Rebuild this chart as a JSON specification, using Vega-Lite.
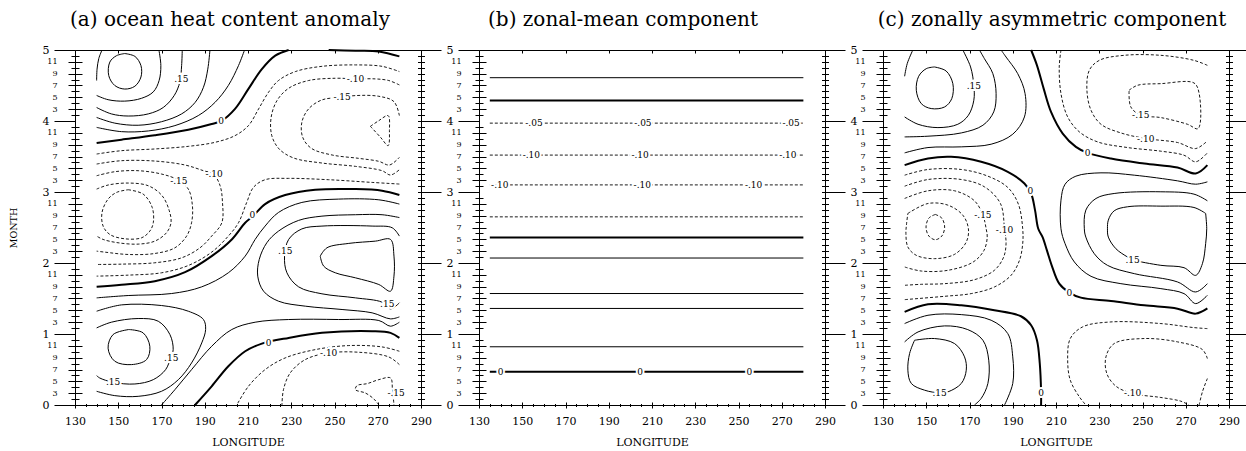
{
"$schema": "https://vega.github.io/schema/vega-lite/v6.json",
"padding": {"left": 7, "top": 9, "right": 0, "bottom": 0},
"autosize": {"type": "pad"},
"datasets": {
"la": [
{"c":"a1","v":0.25,"x":153,"y":4.95},{"c":"a1","v":0.25,"x":157.7,"y":4.91},{"c":"a1","v":0.25,"x":160.5,"y":4.78},{"c":"a1","v":0.25,"x":160.5,"y":4.62},{"c":"a1","v":0.25,"x":157.7,"y":4.49},{"c":"a1","v":0.25,"x":153,"y":4.45},{"c":"a1","v":0.25,"x":148.4,"y":4.5},{"c":"a1","v":0.25,"x":145.6,"y":4.64},{"c":"a1","v":0.25,"x":146.1,"y":4.83},{"c":"a1","v":0.25,"x":149.2,"y":4.92},{"c":"a1","v":0.25,"x":153,"y":4.95},
{"c":"a2","v":0.2,"x":140,"y":4.36},{"c":"a2","v":0.2,"x":145.3,"y":4.3},{"c":"a2","v":0.2,"x":153,"y":4.28},{"c":"a2","v":0.2,"x":160.8,"y":4.32},{"c":"a2","v":0.2,"x":166.2,"y":4.41},{"c":"a2","v":0.2,"x":168.9,"y":4.57},{"c":"a2","v":0.2,"x":169.7,"y":4.78},{"c":"a2","v":0.2,"x":168.8,"y":5},
{"c":"a3","v":0.2,"x":140,"y":4.57},{"c":"a3","v":0.2,"x":140.2,"y":4.73},{"c":"a3","v":0.2,"x":141,"y":4.88},{"c":"a3","v":0.2,"x":142.5,"y":5},
{"c":"a4","v":0.15,"x":140,"y":4.19},{"c":"a4","v":0.15,"x":146.8,"y":4.1},{"c":"a4","v":0.15,"x":154.6,"y":4.07},{"c":"a4","v":0.15,"x":163.9,"y":4.1},{"c":"a4","v":0.15,"x":170.8,"y":4.19},{"c":"a4","v":0.15,"x":175.9,"y":4.36},{"c":"a4","v":0.15,"x":178.5,"y":4.55},{"c":"a4","v":0.15,"x":179.3,"y":4.78},{"c":"a4","v":0.15,"x":179.6,"y":5},
{"c":"a5","v":0.1,"x":140,"y":4.05},{"c":"a5","v":0.1,"x":148.4,"y":3.97},{"c":"a5","v":0.1,"x":159.2,"y":3.94},{"c":"a5","v":0.1,"x":170,"y":3.99},{"c":"a5","v":0.1,"x":179.3,"y":4.1},{"c":"a5","v":0.1,"x":185.5,"y":4.26},{"c":"a5","v":0.1,"x":189.4,"y":4.475},{"c":"a5","v":0.1,"x":191.4,"y":4.73},{"c":"a5","v":0.1,"x":192.4,"y":5},
{"c":"a6","v":0.05,"x":140,"y":3.91},{"c":"a6","v":0.05,"x":151.5,"y":3.85},{"c":"a6","v":0.05,"x":163.9,"y":3.86},{"c":"a6","v":0.05,"x":176.2,"y":3.935},{"c":"a6","v":0.05,"x":187,"y":4.076},{"c":"a6","v":0.05,"x":194.8,"y":4.264},{"c":"a6","v":0.05,"x":200.9,"y":4.5},{"c":"a6","v":0.05,"x":205.6,"y":4.78},{"c":"a6","v":0.05,"x":208.4,"y":5},
{"c":"a7","v":0,"x":140,"y":3.69},{"c":"a7","v":0,"x":151.5,"y":3.737},{"c":"a7","v":0,"x":166.9,"y":3.8},{"c":"a7","v":0,"x":182.4,"y":3.878},{"c":"a7","v":0,"x":193.2,"y":3.958},{"c":"a7","v":0,"x":197.9,"y":4.005},{"c":"a7","v":0,"x":204,"y":4.17},{"c":"a7","v":0,"x":210.2,"y":4.452},{"c":"a7","v":0,"x":216.4,"y":4.73},{"c":"a7","v":0,"x":222.6,"y":4.92},{"c":"a7","v":0,"x":228.8,"y":5},
{"c":"a8","v":0,"x":247.3,"y":5},{"c":"a8","v":0,"x":259.7,"y":4.99},{"c":"a8","v":0,"x":270.5,"y":4.98},{"c":"a8","v":0,"x":280,"y":4.91},
{"c":"a9","v":-0.05,"x":140,"y":3.535},{"c":"a9","v":-0.05,"x":151.5,"y":3.582},{"c":"a9","v":-0.05,"x":166.9,"y":3.606},{"c":"a9","v":-0.05,"x":182.4,"y":3.643},{"c":"a9","v":-0.05,"x":194.8,"y":3.7},{"c":"a9","v":-0.05,"x":204,"y":3.794},{"c":"a9","v":-0.05,"x":210.2,"y":3.935},{"c":"a9","v":-0.05,"x":214.9,"y":4.17},{"c":"a9","v":-0.05,"x":219.5,"y":4.405},{"c":"a9","v":-0.05,"x":224.1,"y":4.57},{"c":"a9","v":-0.05,"x":231.9,"y":4.696},{"c":"a9","v":-0.05,"x":244.2,"y":4.77},{"c":"a9","v":-0.05,"x":259.7,"y":4.79},{"c":"a9","v":-0.05,"x":272,"y":4.77},{"c":"a9","v":-0.05,"x":280,"y":4.696},
{"c":"a10","v":-0.1,"x":280,"y":4.508},{"c":"a10","v":-0.1,"x":275.1,"y":4.57},{"c":"a10","v":-0.1,"x":268.9,"y":4.593},{"c":"a10","v":-0.1,"x":259.7,"y":4.593},{"c":"a10","v":-0.1,"x":250.4,"y":4.602},{"c":"a10","v":-0.1,"x":238,"y":4.57},{"c":"a10","v":-0.1,"x":228.8,"y":4.461},{"c":"a10","v":-0.1,"x":223.4,"y":4.287},{"c":"a10","v":-0.1,"x":220.7,"y":4.052},{"c":"a10","v":-0.1,"x":221,"y":3.794},{"c":"a10","v":-0.1,"x":224.4,"y":3.606},{"c":"a10","v":-0.1,"x":231.1,"y":3.479},{"c":"a10","v":-0.1,"x":244.2,"y":3.408},{"c":"a10","v":-0.1,"x":259.7,"y":3.361},{"c":"a10","v":-0.1,"x":272,"y":3.3},{"c":"a10","v":-0.1,"x":275.9,"y":3.239},{"c":"a10","v":-0.1,"x":280,"y":3.314},
{"c":"a11","v":-0.15,"x":280,"y":4.076},{"c":"a11","v":-0.15,"x":277.5,"y":4.273},{"c":"a11","v":-0.15,"x":270.5,"y":4.348},{"c":"a11","v":-0.15,"x":259.7,"y":4.358},{"c":"a11","v":-0.15,"x":253.5,"y":4.334},{"c":"a11","v":-0.15,"x":244.2,"y":4.297},{"c":"a11","v":-0.15,"x":238,"y":4.17},{"c":"a11","v":-0.15,"x":234.9,"y":3.982},{"c":"a11","v":-0.15,"x":235.3,"y":3.77},{"c":"a11","v":-0.15,"x":239.3,"y":3.615},{"c":"a11","v":-0.15,"x":248.9,"y":3.521},{"c":"a11","v":-0.15,"x":261.2,"y":3.474},{"c":"a11","v":-0.15,"x":270.5,"y":3.432},{"c":"a11","v":-0.15,"x":275.4,"y":3.38},{"c":"a11","v":-0.15,"x":280,"y":3.488},
{"c":"a12","v":-0.2,"x":266.6,"y":3.925},{"c":"a12","v":-0.2,"x":270.5,"y":4.005},{"c":"a12","v":-0.2,"x":274.8,"y":4.076},{"c":"a12","v":-0.2,"x":275.4,"y":3.864},{"c":"a12","v":-0.2,"x":274.8,"y":3.653},{"c":"a12","v":-0.2,"x":271.3,"y":3.77},{"c":"a12","v":-0.2,"x":266.6,"y":3.925},
{"c":"a13","v":-0.05,"x":280,"y":3.112},{"c":"a13","v":-0.05,"x":267.4,"y":3.135},{"c":"a13","v":-0.05,"x":247.3,"y":3.173},{"c":"a13","v":-0.05,"x":228.8,"y":3.192},{"c":"a13","v":-0.05,"x":217.9,"y":3.173},{"c":"a13","v":-0.05,"x":212.5,"y":3.065},{"c":"a13","v":-0.05,"x":209.4,"y":2.853},{"c":"a13","v":-0.05,"x":205.6,"y":2.567},{"c":"a13","v":-0.05,"x":200.9,"y":2.379},{"c":"a13","v":-0.05,"x":193.2,"y":2.153},{"c":"a13","v":-0.05,"x":182.4,"y":1.965},{"c":"a13","v":-0.05,"x":170,"y":1.862},{"c":"a13","v":-0.05,"x":154.6,"y":1.829},{"c":"a13","v":-0.05,"x":140,"y":1.815},
{"c":"a14","v":-0.1,"x":140,"y":3.394},{"c":"a14","v":-0.1,"x":151.5,"y":3.441},{"c":"a14","v":-0.1,"x":166.9,"y":3.436},{"c":"a14","v":-0.1,"x":180.9,"y":3.38},{"c":"a14","v":-0.1,"x":189.4,"y":3.3},{"c":"a14","v":-0.1,"x":194,"y":3.253},{"c":"a14","v":-0.1,"x":197.1,"y":3.088},{"c":"a14","v":-0.1,"x":198.2,"y":2.853},{"c":"a14","v":-0.1,"x":197.9,"y":2.567},{"c":"a14","v":-0.1,"x":193.2,"y":2.379},{"c":"a14","v":-0.1,"x":187.8,"y":2.214},{"c":"a14","v":-0.1,"x":179.3,"y":2.073},{"c":"a14","v":-0.1,"x":166.9,"y":2.003},{"c":"a14","v":-0.1,"x":151.5,"y":1.984},{"c":"a14","v":-0.1,"x":140,"y":1.979},
{"c":"a15","v":-0.15,"x":140,"y":3.229},{"c":"a15","v":-0.15,"x":148.4,"y":3.286},{"c":"a15","v":-0.15,"x":159.2,"y":3.3},{"c":"a15","v":-0.15,"x":170,"y":3.253},{"c":"a15","v":-0.15,"x":177.4,"y":3.173},{"c":"a15","v":-0.15,"x":182.4,"y":3.041},{"c":"a15","v":-0.15,"x":184.3,"y":2.806},{"c":"a15","v":-0.15,"x":183.9,"y":2.567},{"c":"a15","v":-0.15,"x":181.6,"y":2.379},{"c":"a15","v":-0.15,"x":176.2,"y":2.214},{"c":"a15","v":-0.15,"x":166.9,"y":2.134},{"c":"a15","v":-0.15,"x":154.6,"y":2.12},{"c":"a15","v":-0.15,"x":143.8,"y":2.153},{"c":"a15","v":-0.15,"x":140,"y":2.167},
{"c":"a16","v":-0.2,"x":140,"y":3.041},{"c":"a16","v":-0.2,"x":145.3,"y":3.098},{"c":"a16","v":-0.2,"x":154.6,"y":3.126},{"c":"a16","v":-0.2,"x":163.9,"y":3.088},{"c":"a16","v":-0.2,"x":170.3,"y":2.947},{"c":"a16","v":-0.2,"x":173.6,"y":2.736},{"c":"a16","v":-0.2,"x":174.4,"y":2.567},{"c":"a16","v":-0.2,"x":172.3,"y":2.426},{"c":"a16","v":-0.2,"x":166.9,"y":2.308},{"c":"a16","v":-0.2,"x":159.2,"y":2.266},{"c":"a16","v":-0.2,"x":149.9,"y":2.285},{"c":"a16","v":-0.2,"x":143,"y":2.332},{"c":"a16","v":-0.2,"x":140,"y":2.379},
{"c":"a17","v":-0.25,"x":154.6,"y":3.032},{"c":"a17","v":-0.25,"x":161.5,"y":2.971},{"c":"a17","v":-0.25,"x":165.7,"y":2.783},{"c":"a17","v":-0.25,"x":166.2,"y":2.567},{"c":"a17","v":-0.25,"x":164.6,"y":2.449},{"c":"a17","v":-0.25,"x":160.8,"y":2.355},{"c":"a17","v":-0.25,"x":153,"y":2.341},{"c":"a17","v":-0.25,"x":146.1,"y":2.402},{"c":"a17","v":-0.25,"x":143,"y":2.52},{"c":"a17","v":-0.25,"x":142.5,"y":2.712},{"c":"a17","v":-0.25,"x":145.3,"y":2.9},{"c":"a17","v":-0.25,"x":149.2,"y":2.994},{"c":"a17","v":-0.25,"x":154.6,"y":3.032},
{"c":"a18","v":0,"x":140,"y":1.664},{"c":"a18","v":0,"x":151.5,"y":1.693},{"c":"a18","v":0,"x":166.9,"y":1.744},{"c":"a18","v":0,"x":180.9,"y":1.871},{"c":"a18","v":0,"x":193.2,"y":2.097},{"c":"a18","v":0,"x":202.5,"y":2.332},{"c":"a18","v":0,"x":208.7,"y":2.567},{"c":"a18","v":0,"x":212.5,"y":2.665},{"c":"a18","v":0,"x":217.9,"y":2.83},{"c":"a18","v":0,"x":227.2,"y":2.957},{"c":"a18","v":0,"x":241.1,"y":3.032},{"c":"a18","v":0,"x":259.7,"y":3.041},{"c":"a18","v":0,"x":272,"y":3.018},{"c":"a18","v":0,"x":280,"y":2.957},
{"c":"a19","v":0.05,"x":140,"y":1.509},{"c":"a19","v":0.05,"x":154.6,"y":1.542},{"c":"a19","v":0.05,"x":174.7,"y":1.57},{"c":"a19","v":0.05,"x":188.6,"y":1.664},{"c":"a19","v":0.05,"x":200.9,"y":1.862},{"c":"a19","v":0.05,"x":208.7,"y":2.097},{"c":"a19","v":0.05,"x":213.3,"y":2.332},{"c":"a19","v":0.05,"x":217.9,"y":2.52},{"c":"a19","v":0.05,"x":224.1,"y":2.712},{"c":"a19","v":0.05,"x":234.9,"y":2.853},{"c":"a19","v":0.05,"x":251.9,"y":2.9},{"c":"a19","v":0.05,"x":270.5,"y":2.89},{"c":"a19","v":0.05,"x":280,"y":2.83},
{"c":"a20","v":0.1,"x":280,"y":1.241},{"c":"a20","v":0.1,"x":275.9,"y":1.213},{"c":"a20","v":0.1,"x":267.4,"y":1.298},{"c":"a20","v":0.1,"x":253.5,"y":1.345},{"c":"a20","v":0.1,"x":236.5,"y":1.392},{"c":"a20","v":0.1,"x":224.1,"y":1.462},{"c":"a20","v":0.1,"x":217.2,"y":1.603},{"c":"a20","v":0.1,"x":214.5,"y":1.815},{"c":"a20","v":0.1,"x":215.2,"y":2.05},{"c":"a20","v":0.1,"x":218.7,"y":2.285},{"c":"a20","v":0.1,"x":224.1,"y":2.449},{"c":"a20","v":0.1,"x":233.4,"y":2.6},{"c":"a20","v":0.1,"x":244.2,"y":2.66},{"c":"a20","v":0.1,"x":259.7,"y":2.68},{"c":"a20","v":0.1,"x":272,"y":2.68},{"c":"a20","v":0.1,"x":280,"y":2.64},
{"c":"a21","v":0.15,"x":280,"y":2.379},{"c":"a21","v":0.15,"x":276.7,"y":2.496},{"c":"a21","v":0.15,"x":267.4,"y":2.52},{"c":"a21","v":0.15,"x":244.2,"y":2.52},{"c":"a21","v":0.15,"x":234.9,"y":2.48},{"c":"a21","v":0.15,"x":228.8,"y":2.332},{"c":"a21","v":0.15,"x":226.9,"y":2.097},{"c":"a21","v":0.15,"x":228,"y":1.862},{"c":"a21","v":0.15,"x":233.4,"y":1.664},{"c":"a21","v":0.15,"x":244.2,"y":1.566},{"c":"a21","v":0.15,"x":259.7,"y":1.509},{"c":"a21","v":0.15,"x":272,"y":1.448},{"c":"a21","v":0.15,"x":275.9,"y":1.354},{"c":"a21","v":0.15,"x":280,"y":1.439},
{"c":"a22","v":0.2,"x":243.4,"y":2.097},{"c":"a22","v":0.2,"x":246.5,"y":2.214},{"c":"a22","v":0.2,"x":256.6,"y":2.276},{"c":"a22","v":0.2,"x":268.9,"y":2.308},{"c":"a22","v":0.2,"x":275.9,"y":2.332},{"c":"a22","v":0.2,"x":277.5,"y":2.097},{"c":"a22","v":0.2,"x":277.5,"y":1.815},{"c":"a22","v":0.2,"x":275.9,"y":1.603},{"c":"a22","v":0.2,"x":270.5,"y":1.697},{"c":"a22","v":0.2,"x":259.7,"y":1.791},{"c":"a22","v":0.2,"x":250.4,"y":1.862},{"c":"a22","v":0.2,"x":245,"y":1.956},{"c":"a22","v":0.2,"x":243.4,"y":2.097},
{"c":"a23","v":0.05,"x":170,"y":0},{"c":"a23","v":0.05,"x":176.2,"y":0.216},{"c":"a23","v":0.05,"x":183.9,"y":0.498},{"c":"a23","v":0.05,"x":193.2,"y":0.827},{"c":"a23","v":0.05,"x":202.5,"y":1.063},{"c":"a23","v":0.05,"x":213.3,"y":1.166},{"c":"a23","v":0.05,"x":228.8,"y":1.204},{"c":"a23","v":0.05,"x":251.9,"y":1.204},{"c":"a23","v":0.05,"x":270.5,"y":1.19},{"c":"a23","v":0.05,"x":275.9,"y":1.11},{"c":"a23","v":0.05,"x":280,"y":1.166},
{"c":"a24","v":0,"x":185.5,"y":0},{"c":"a24","v":0,"x":193.2,"y":0.263},{"c":"a24","v":0,"x":200.9,"y":0.545},{"c":"a24","v":0,"x":208.7,"y":0.757},{"c":"a24","v":0,"x":216.4,"y":0.865},{"c":"a24","v":0,"x":228.8,"y":0.945},{"c":"a24","v":0,"x":244.2,"y":1.016},{"c":"a24","v":0,"x":267.4,"y":1.039},{"c":"a24","v":0,"x":275.9,"y":1.016},{"c":"a24","v":0,"x":280,"y":0.945},
{"c":"a25","v":0.2,"x":154.9,"y":1.063},{"c":"a25","v":0.2,"x":161.5,"y":1.016},{"c":"a25","v":0.2,"x":164.6,"y":0.827},{"c":"a25","v":0.2,"x":163.1,"y":0.64},{"c":"a25","v":0.2,"x":156.1,"y":0.569},{"c":"a25","v":0.2,"x":148.4,"y":0.616},{"c":"a25","v":0.2,"x":145.3,"y":0.8},{"c":"a25","v":0.2,"x":147.6,"y":0.992},{"c":"a25","v":0.2,"x":154.9,"y":1.063},
{"c":"a26","v":0.15,"x":140,"y":1.086},{"c":"a26","v":0.15,"x":146.8,"y":1.166},{"c":"a26","v":0.15,"x":159.2,"y":1.218},{"c":"a26","v":0.15,"x":168.5,"y":1.18},{"c":"a26","v":0.15,"x":173.9,"y":0.992},{"c":"a26","v":0.15,"x":175.4,"y":0.78},{"c":"a26","v":0.15,"x":174.2,"y":0.663},{"c":"a26","v":0.15,"x":171.9,"y":0.498},{"c":"a26","v":0.15,"x":166.2,"y":0.357},{"c":"a26","v":0.15,"x":157.7,"y":0.296},{"c":"a26","v":0.15,"x":147.6,"y":0.32},{"c":"a26","v":0.15,"x":141.4,"y":0.381},{"c":"a26","v":0.15,"x":140,"y":0.414},
{"c":"a27","v":0.1,"x":140,"y":1.321},{"c":"a27","v":0.1,"x":151.5,"y":1.41},{"c":"a27","v":0.1,"x":170,"y":1.401},{"c":"a27","v":0.1,"x":182.4,"y":1.321},{"c":"a27","v":0.1,"x":189.4,"y":1.204},{"c":"a27","v":0.1,"x":190.4,"y":1.063},{"c":"a27","v":0.1,"x":188.6,"y":0.874},{"c":"a27","v":0.1,"x":183.9,"y":0.592},{"c":"a27","v":0.1,"x":177.8,"y":0.357},{"c":"a27","v":0.1,"x":170,"y":0.193},{"c":"a27","v":0.1,"x":159.2,"y":0.122},{"c":"a27","v":0.1,"x":148.4,"y":0.132},{"c":"a27","v":0.1,"x":140,"y":0.193},
{"c":"a28","v":-0.05,"x":280,"y":0.757},{"c":"a28","v":-0.05,"x":272,"y":0.818},{"c":"a28","v":-0.05,"x":256.6,"y":0.837},{"c":"a28","v":-0.05,"x":241.1,"y":0.78},{"c":"a28","v":-0.05,"x":227.2,"y":0.663},{"c":"a28","v":-0.05,"x":217.9,"y":0.498},{"c":"a28","v":-0.05,"x":210.2,"y":0.263},{"c":"a28","v":-0.05,"x":204.8,"y":0},
{"c":"a29","v":-0.1,"x":280,"y":0.569},{"c":"a29","v":-0.1,"x":275.1,"y":0.677},{"c":"a29","v":-0.1,"x":261.2,"y":0.743},{"c":"a29","v":-0.1,"x":247.3,"y":0.733},{"c":"a29","v":-0.1,"x":236.5,"y":0.64},{"c":"a29","v":-0.1,"x":229.5,"y":0.451},{"c":"a29","v":-0.1,"x":226.4,"y":0.216},{"c":"a29","v":-0.1,"x":225.7,"y":0},
{"c":"a30","v":-0.15,"x":270.5,"y":0},{"c":"a30","v":-0.15,"x":268.2,"y":0.085},{"c":"a30","v":-0.15,"x":264.3,"y":0.169},{"c":"a30","v":-0.15,"x":259.7,"y":0.216},{"c":"a30","v":-0.15,"x":260.4,"y":0.273},{"c":"a30","v":-0.15,"x":265.1,"y":0.301},{"c":"a30","v":-0.15,"x":270.5,"y":0.357},{"c":"a30","v":-0.15,"x":275.9,"y":0.381},{"c":"a30","v":-0.15,"x":276.8,"y":0.216},{"c":"a30","v":-0.15,"x":277.5,"y":0}
],
"ta": [
{"x":179.2,"y":4.59,"t":".15"},{"x":197.6,"y":4.0,"t":"0"},{"x":259.7,"y":4.59,"t":"-.10"},{"x":253.5,"y":4.334,"t":"-.15"},{"x":194.3,"y":3.25,"t":"-.10"},{"x":178.0,"y":3.16,"t":"-.15"},{"x":212.0,"y":2.67,"t":"0"},{"x":227.2,"y":2.167,"t":".15"},{"x":274.4,"y":1.42,"t":".15"},{"x":219.5,"y":0.87,"t":"0"},{"x":247.3,"y":0.733,"t":"-.10"},{"x":278.5,"y":0.17,"t":"-.15"},{"x":174.5,"y":0.663,"t":".15"},{"x":147.6,"y":0.32,"t":".15"}
],
"lb": [
{"c":"b1","v":0.05,"x":135,"y":4.61},{"c":"b1","v":0.05,"x":280,"y":4.61},
{"c":"b2","v":0,"x":135,"y":4.29},{"c":"b2","v":0,"x":280,"y":4.29},
{"c":"b3","v":-0.05,"x":135,"y":3.97},{"c":"b3","v":-0.05,"x":280,"y":3.97},
{"c":"b4","v":-0.1,"x":135,"y":3.52},{"c":"b4","v":-0.1,"x":280,"y":3.52},
{"c":"b5","v":-0.1,"x":135,"y":3.1},{"c":"b5","v":-0.1,"x":280,"y":3.1},
{"c":"b6","v":-0.05,"x":135,"y":2.65},{"c":"b6","v":-0.05,"x":280,"y":2.65},
{"c":"b7","v":0,"x":135,"y":2.36},{"c":"b7","v":0,"x":280,"y":2.36},
{"c":"b8","v":0.05,"x":135,"y":2.07},{"c":"b8","v":0.05,"x":280,"y":2.07},
{"c":"b9","v":0.1,"x":135,"y":1.57},{"c":"b9","v":0.1,"x":280,"y":1.57},
{"c":"b10","v":0.1,"x":135,"y":1.36},{"c":"b10","v":0.1,"x":280,"y":1.36},
{"c":"b11","v":0.05,"x":135,"y":0.82},{"c":"b11","v":0.05,"x":280,"y":0.82},
{"c":"b12","v":0,"x":135,"y":0.47},{"c":"b12","v":0,"x":280,"y":0.47}
],
"tb": [
{"x":155.4,"y":3.97,"t":"-.05"},{"x":205.8,"y":3.97,"t":"-.05"},{"x":274.3,"y":3.97,"t":"-.05"},
{"x":154.2,"y":3.52,"t":"-.10"},{"x":204.5,"y":3.52,"t":"-.10"},{"x":272.8,"y":3.52,"t":"-.10"},
{"x":139.6,"y":3.1,"t":"-.10"},{"x":205.5,"y":3.1,"t":"-.10"},{"x":257,"y":3.1,"t":"-.10"},
{"x":140,"y":0.47,"t":"0"},{"x":204.5,"y":0.47,"t":"0"},{"x":255,"y":0.47,"t":"0"}
],
"lc": [
{"c":"c1","v":0.2,"x":153.8,"y":4.761},{"c":"c1","v":0.2,"x":159.2,"y":4.704},{"c":"c1","v":0.2,"x":162.3,"y":4.526},{"c":"c1","v":0.2,"x":161.8,"y":4.315},{"c":"c1","v":0.2,"x":158.5,"y":4.198},{"c":"c1","v":0.2,"x":152.3,"y":4.175},{"c":"c1","v":0.2,"x":147.7,"y":4.245},{"c":"c1","v":0.2,"x":145.4,"y":4.433},{"c":"c1","v":0.2,"x":146.5,"y":4.63},{"c":"c1","v":0.2,"x":150,"y":4.737},{"c":"c1","v":0.2,"x":153.8,"y":4.761},
{"c":"c2","v":0.15,"x":140,"y":4.057},{"c":"c2","v":0.15,"x":146.2,"y":3.954},{"c":"c2","v":0.15,"x":155.4,"y":3.907},{"c":"c2","v":0.15,"x":164.6,"y":3.954},{"c":"c2","v":0.15,"x":169.5,"y":4.081},{"c":"c2","v":0.15,"x":172,"y":4.292},{"c":"c2","v":0.15,"x":172,"y":4.503},{"c":"c2","v":0.15,"x":170.5,"y":4.761},{"c":"c2","v":0.15,"x":166.9,"y":5},
{"c":"c3","v":0.15,"x":140,"y":4.63},{"c":"c3","v":0.15,"x":141.2,"y":4.808},{"c":"c3","v":0.15,"x":143.8,"y":5},
{"c":"c4","v":0.1,"x":140,"y":3.776},{"c":"c4","v":0.1,"x":150.8,"y":3.786},{"c":"c4","v":0.1,"x":166.2,"y":3.832},{"c":"c4","v":0.1,"x":176.2,"y":3.94},{"c":"c4","v":0.1,"x":181.2,"y":4.128},{"c":"c4","v":0.1,"x":182.3,"y":4.386},{"c":"c4","v":0.1,"x":180.8,"y":4.667},{"c":"c4","v":0.1,"x":176.9,"y":4.878},{"c":"c4","v":0.1,"x":174.6,"y":5},
{"c":"c5","v":0.05,"x":140,"y":3.551},{"c":"c5","v":0.05,"x":150.8,"y":3.626},{"c":"c5","v":0.05,"x":166.2,"y":3.636},{"c":"c5","v":0.05,"x":180,"y":3.673},{"c":"c5","v":0.05,"x":190,"y":3.814},{"c":"c5","v":0.05,"x":195.4,"y":4.057},{"c":"c5","v":0.05,"x":195.7,"y":4.386},{"c":"c5","v":0.05,"x":192.3,"y":4.667},{"c":"c5","v":0.05,"x":186.9,"y":4.901},{"c":"c5","v":0.05,"x":184.6,"y":5},
{"c":"c6","v":0,"x":140,"y":3.378},{"c":"c6","v":0,"x":150.8,"y":3.471},{"c":"c6","v":0,"x":161.5,"y":3.495},{"c":"c6","v":0,"x":175.4,"y":3.425},{"c":"c6","v":0,"x":187.7,"y":3.284},{"c":"c6","v":0,"x":195.4,"y":3.12},{"c":"c6","v":0,"x":198.5,"y":2.979},{"c":"c6","v":0,"x":200.3,"y":2.745},{"c":"c6","v":0,"x":201.8,"y":2.482},{"c":"c6","v":0,"x":203.8,"y":2.365},{"c":"c6","v":0,"x":205.8,"y":2.178},{"c":"c6","v":0,"x":208,"y":1.967},{"c":"c6","v":0,"x":211.5,"y":1.709},{"c":"c6","v":0,"x":216.2,"y":1.583},{"c":"c6","v":0,"x":221.5,"y":1.512},{"c":"c6","v":0,"x":235.4,"y":1.465},{"c":"c6","v":0,"x":250.8,"y":1.404},{"c":"c6","v":0,"x":266.2,"y":1.357},{"c":"c6","v":0,"x":274.6,"y":1.287},{"c":"c6","v":0,"x":280,"y":1.36},
{"c":"c7","v":0,"x":198.5,"y":5},{"c":"c7","v":0,"x":201.2,"y":4.784},{"c":"c7","v":0,"x":204.3,"y":4.456},{"c":"c7","v":0,"x":207.7,"y":4.128},{"c":"c7","v":0,"x":213.1,"y":3.823},{"c":"c7","v":0,"x":219.2,"y":3.636},{"c":"c7","v":0,"x":224.6,"y":3.551},{"c":"c7","v":0,"x":235.4,"y":3.471},{"c":"c7","v":0,"x":250.8,"y":3.401},{"c":"c7","v":0,"x":266.2,"y":3.345},{"c":"c7","v":0,"x":274.6,"y":3.26},{"c":"c7","v":0,"x":280,"y":3.378},
{"c":"c8","v":-0.05,"x":212.3,"y":5},{"c":"c8","v":-0.05,"x":211.5,"y":4.761},{"c":"c8","v":-0.05,"x":212.3,"y":4.386},{"c":"c8","v":-0.05,"x":215.4,"y":4.057},{"c":"c8","v":-0.05,"x":220.8,"y":3.847},{"c":"c8","v":-0.05,"x":229.2,"y":3.706},{"c":"c8","v":-0.05,"x":243.1,"y":3.626},{"c":"c8","v":-0.05,"x":258.5,"y":3.575},{"c":"c8","v":-0.05,"x":269.2,"y":3.518},{"c":"c8","v":-0.05,"x":274.6,"y":3.425},{"c":"c8","v":-0.05,"x":280,"y":3.551},
{"c":"c9","v":-0.1,"x":280,"y":4.784},{"c":"c9","v":-0.1,"x":273.8,"y":4.854},{"c":"c9","v":-0.1,"x":258.5,"y":4.925},{"c":"c9","v":-0.1,"x":241.5,"y":4.925},{"c":"c9","v":-0.1,"x":230,"y":4.854},{"c":"c9","v":-0.1,"x":225.4,"y":4.714},{"c":"c9","v":-0.1,"x":224.3,"y":4.433},{"c":"c9","v":-0.1,"x":226.2,"y":4.151},{"c":"c9","v":-0.1,"x":230.8,"y":3.954},{"c":"c9","v":-0.1,"x":240,"y":3.832},{"c":"c9","v":-0.1,"x":251.5,"y":3.753},{"c":"c9","v":-0.1,"x":266.2,"y":3.697},{"c":"c9","v":-0.1,"x":274.6,"y":3.612},{"c":"c9","v":-0.1,"x":280,"y":3.72},
{"c":"c10","v":-0.15,"x":243.8,"y":4.433},{"c":"c10","v":-0.15,"x":247.7,"y":4.503},{"c":"c10","v":-0.15,"x":258.5,"y":4.526},{"c":"c10","v":-0.15,"x":273.8,"y":4.536},{"c":"c10","v":-0.15,"x":276.2,"y":4.386},{"c":"c10","v":-0.15,"x":275.7,"y":3.893},{"c":"c10","v":-0.15,"x":270.8,"y":3.954},{"c":"c10","v":-0.15,"x":258.5,"y":4.048},{"c":"c10","v":-0.15,"x":249.2,"y":4.081},{"c":"c10","v":-0.15,"x":244.6,"y":4.198},{"c":"c10","v":-0.15,"x":243.8,"y":4.433},
{"c":"c11","v":0.05,"x":280,"y":3.143},{"c":"c11","v":0.05,"x":274.6,"y":3.11},{"c":"c11","v":0.05,"x":266.2,"y":3.157},{"c":"c11","v":0.05,"x":246.2,"y":3.237},{"c":"c11","v":0.05,"x":230.8,"y":3.27},{"c":"c11","v":0.05,"x":219.2,"y":3.223},{"c":"c11","v":0.05,"x":214.2,"y":3.11},{"c":"c11","v":0.05,"x":212.3,"y":2.885},{"c":"c11","v":0.05,"x":212.3,"y":2.482},{"c":"c11","v":0.05,"x":214.2,"y":2.272},{"c":"c11","v":0.05,"x":218.5,"y":2.014},{"c":"c11","v":0.05,"x":226.2,"y":1.812},{"c":"c11","v":0.05,"x":240,"y":1.709},{"c":"c11","v":0.05,"x":258.5,"y":1.639},{"c":"c11","v":0.05,"x":269.2,"y":1.569},{"c":"c11","v":0.05,"x":274.6,"y":1.428},{"c":"c11","v":0.05,"x":280,"y":1.545},
{"c":"c12","v":0.1,"x":280,"y":2.876},{"c":"c12","v":0.1,"x":273.8,"y":2.97},{"c":"c12","v":0.1,"x":258.5,"y":3.003},{"c":"c12","v":0.1,"x":236.9,"y":2.979},{"c":"c12","v":0.1,"x":228.5,"y":2.909},{"c":"c12","v":0.1,"x":223.8,"y":2.745},{"c":"c12","v":0.1,"x":223.1,"y":2.482},{"c":"c12","v":0.1,"x":223.8,"y":2.365},{"c":"c12","v":0.1,"x":227.7,"y":2.131},{"c":"c12","v":0.1,"x":233.8,"y":1.967},{"c":"c12","v":0.1,"x":246.2,"y":1.85},{"c":"c12","v":0.1,"x":266.2,"y":1.733},{"c":"c12","v":0.1,"x":274.6,"y":1.592},{"c":"c12","v":0.1,"x":280,"y":1.709},
{"c":"c13","v":0.15,"x":279.2,"y":2.698},{"c":"c13","v":0.15,"x":273.8,"y":2.782},{"c":"c13","v":0.15,"x":258.5,"y":2.801},{"c":"c13","v":0.15,"x":243.1,"y":2.792},{"c":"c13","v":0.15,"x":236.9,"y":2.735},{"c":"c13","v":0.15,"x":234.2,"y":2.604},{"c":"c13","v":0.15,"x":233.8,"y":2.482},{"c":"c13","v":0.15,"x":234.2,"y":2.365},{"c":"c13","v":0.15,"x":237.7,"y":2.201},{"c":"c13","v":0.15,"x":243.1,"y":2.084},{"c":"c13","v":0.15,"x":245.4,"y":2.047},{"c":"c13","v":0.15,"x":258.5,"y":1.967},{"c":"c13","v":0.15,"x":269.2,"y":1.934},{"c":"c13","v":0.15,"x":274.6,"y":1.826},{"c":"c13","v":0.15,"x":277.7,"y":1.99},{"c":"c13","v":0.15,"x":279.2,"y":2.272},{"c":"c13","v":0.15,"x":279.7,"y":2.483},{"c":"c13","v":0.15,"x":279.2,"y":2.698},
{"c":"c14","v":-0.25,"x":154.2,"y":2.684},{"c":"c14","v":-0.25,"x":157.2,"y":2.632},{"c":"c14","v":-0.25,"x":158.5,"y":2.506},{"c":"c14","v":-0.25,"x":157.2,"y":2.38},{"c":"c14","v":-0.25,"x":154.2,"y":2.328},{"c":"c14","v":-0.25,"x":151.2,"y":2.38},{"c":"c14","v":-0.25,"x":149.9,"y":2.506},{"c":"c14","v":-0.25,"x":151.2,"y":2.632},{"c":"c14","v":-0.25,"x":154.2,"y":2.684},
{"c":"c15","v":-0.2,"x":141.5,"y":2.698},{"c":"c15","v":-0.2,"x":150.8,"y":2.838},{"c":"c15","v":-0.2,"x":160,"y":2.815},{"c":"c15","v":-0.2,"x":166.9,"y":2.674},{"c":"c15","v":-0.2,"x":169.5,"y":2.482},{"c":"c15","v":-0.2,"x":168.5,"y":2.295},{"c":"c15","v":-0.2,"x":163.1,"y":2.122},{"c":"c15","v":-0.2,"x":153.8,"y":2.061},{"c":"c15","v":-0.2,"x":145.4,"y":2.108},{"c":"c15","v":-0.2,"x":141.5,"y":2.225},{"c":"c15","v":-0.2,"x":140.6,"y":2.412},{"c":"c15","v":-0.2,"x":140.9,"y":2.553},{"c":"c15","v":-0.2,"x":141.5,"y":2.698},
{"c":"c16","v":-0.15,"x":140,"y":2.909},{"c":"c16","v":-0.15,"x":150.8,"y":3.017},{"c":"c16","v":-0.15,"x":163.1,"y":3.017},{"c":"c16","v":-0.15,"x":172.3,"y":2.876},{"c":"c16","v":-0.15,"x":176.2,"y":2.674},{"c":"c16","v":-0.15,"x":177.7,"y":2.482},{"c":"c16","v":-0.15,"x":178.2,"y":2.365},{"c":"c16","v":-0.15,"x":176.7,"y":2.178},{"c":"c16","v":-0.15,"x":171.7,"y":2.014},{"c":"c16","v":-0.15,"x":160,"y":1.897},{"c":"c16","v":-0.15,"x":147.7,"y":1.887},{"c":"c16","v":-0.15,"x":140,"y":1.944},
{"c":"c17","v":-0.1,"x":140,"y":3.082},{"c":"c17","v":-0.1,"x":150.8,"y":3.176},{"c":"c17","v":-0.1,"x":166.2,"y":3.176},{"c":"c17","v":-0.1,"x":176.9,"y":3.073},{"c":"c17","v":-0.1,"x":184.3,"y":2.838},{"c":"c17","v":-0.1,"x":186.2,"y":2.482},{"c":"c17","v":-0.1,"x":186.9,"y":2.272},{"c":"c17","v":-0.1,"x":185.8,"y":2.084},{"c":"c17","v":-0.1,"x":181.5,"y":1.897},{"c":"c17","v":-0.1,"x":172.3,"y":1.765},{"c":"c17","v":-0.1,"x":158.5,"y":1.709},{"c":"c17","v":-0.1,"x":147.7,"y":1.7},{"c":"c17","v":-0.1,"x":140,"y":1.686},
{"c":"c18","v":-0.05,"x":140,"y":3.237},{"c":"c18","v":-0.05,"x":150.8,"y":3.317},{"c":"c18","v":-0.05,"x":166.2,"y":3.317},{"c":"c18","v":-0.05,"x":178.5,"y":3.223},{"c":"c18","v":-0.05,"x":187.7,"y":3.064},{"c":"c18","v":-0.05,"x":192.6,"y":2.829},{"c":"c18","v":-0.05,"x":194.6,"y":2.482},{"c":"c18","v":-0.05,"x":194.6,"y":2.272},{"c":"c18","v":-0.05,"x":193.1,"y":2.037},{"c":"c18","v":-0.05,"x":189.2,"y":1.826},{"c":"c18","v":-0.05,"x":181.5,"y":1.662},{"c":"c18","v":-0.05,"x":170.8,"y":1.569},{"c":"c18","v":-0.05,"x":158.5,"y":1.531},{"c":"c18","v":-0.05,"x":140,"y":1.484},
{"c":"c19","v":0,"x":140,"y":1.311},{"c":"c19","v":0,"x":150.8,"y":1.418},{"c":"c19","v":0,"x":166.2,"y":1.404},{"c":"c19","v":0,"x":181.5,"y":1.334},{"c":"c19","v":0,"x":193.8,"y":1.25},{"c":"c19","v":0,"x":198.5,"y":1.123},{"c":"c19","v":0,"x":201.2,"y":0.912},{"c":"c19","v":0,"x":202.5,"y":0.584},{"c":"c19","v":0,"x":203.1,"y":0.185},{"c":"c19","v":0,"x":203.1,"y":0},
{"c":"c20","v":0.05,"x":140,"y":1.147},{"c":"c20","v":0.05,"x":150.8,"y":1.264},{"c":"c20","v":0.05,"x":166.2,"y":1.273},{"c":"c20","v":0.05,"x":180,"y":1.194},{"c":"c20","v":0.05,"x":187.7,"y":1.006},{"c":"c20","v":0.05,"x":190,"y":0.678},{"c":"c20","v":0.05,"x":190,"y":0.303},{"c":"c20","v":0.05,"x":186.2,"y":0},
{"c":"c21","v":0.1,"x":140,"y":0.889},{"c":"c21","v":0.1,"x":146.2,"y":1.029},{"c":"c21","v":0.1,"x":158.5,"y":1.114},{"c":"c21","v":0.1,"x":169.2,"y":1.062},{"c":"c21","v":0.1,"x":176.2,"y":0.912},{"c":"c21","v":0.1,"x":178.9,"y":0.631},{"c":"c21","v":0.1,"x":178.5,"y":0.303},{"c":"c21","v":0.1,"x":175.4,"y":0.092},{"c":"c21","v":0.1,"x":172.3,"y":0},
{"c":"c22","v":0.15,"x":144.6,"y":0.912},{"c":"c22","v":0.15,"x":153.8,"y":0.936},{"c":"c22","v":0.15,"x":163.1,"y":0.865},{"c":"c22","v":0.15,"x":167.7,"y":0.678},{"c":"c22","v":0.15,"x":168.5,"y":0.49},{"c":"c22","v":0.15,"x":166.2,"y":0.303},{"c":"c22","v":0.15,"x":160,"y":0.185},{"c":"c22","v":0.15,"x":156.2,"y":0.171},{"c":"c22","v":0.15,"x":149.2,"y":0.209},{"c":"c22","v":0.15,"x":143.1,"y":0.303},{"c":"c22","v":0.15,"x":141.5,"y":0.49},{"c":"c22","v":0.15,"x":142.3,"y":0.725},{"c":"c22","v":0.15,"x":144.6,"y":0.912},
{"c":"c23","v":-0.05,"x":280,"y":1.076},{"c":"c23","v":-0.05,"x":273.8,"y":1.09},{"c":"c23","v":-0.05,"x":258.5,"y":1.147},{"c":"c23","v":-0.05,"x":235.4,"y":1.17},{"c":"c23","v":-0.05,"x":222.3,"y":1.1},{"c":"c23","v":-0.05,"x":216.6,"y":0.936},{"c":"c23","v":-0.05,"x":215.4,"y":0.631},{"c":"c23","v":-0.05,"x":216.6,"y":0.35},{"c":"c23","v":-0.05,"x":220.8,"y":0.115},{"c":"c23","v":-0.05,"x":223.8,"y":0},
{"c":"c24","v":-0.1,"x":280,"y":0.654},{"c":"c24","v":-0.1,"x":277.7,"y":0.781},{"c":"c24","v":-0.1,"x":266.2,"y":0.889},{"c":"c24","v":-0.1,"x":250.8,"y":0.936},{"c":"c24","v":-0.1,"x":236.9,"y":0.865},{"c":"c24","v":-0.1,"x":233.1,"y":0.678},{"c":"c24","v":-0.1,"x":233.5,"y":0.443},{"c":"c24","v":-0.1,"x":237.7,"y":0.265},{"c":"c24","v":-0.1,"x":245.4,"y":0.162},{"c":"c24","v":-0.1,"x":258.5,"y":0.106},{"c":"c24","v":-0.1,"x":267.7,"y":0.054},{"c":"c24","v":-0.1,"x":271.5,"y":0},
{"c":"c25","v":-0.15,"x":280,"y":0.373},{"c":"c25","v":-0.15,"x":277.7,"y":0.185},{"c":"c25","v":-0.15,"x":276.2,"y":0}
],
"tc": [
{"x":172.0,"y":4.5,"t":".15"},{"x":198.2,"y":3.017,"t":"0"},{"x":224.6,"y":3.551,"t":"0"},{"x":251.5,"y":3.753,"t":"-.10"},{"x":249.2,"y":4.081,"t":"-.15"},{"x":176.2,"y":2.674,"t":"-.15"},{"x":186.2,"y":2.47,"t":"-.10"},{"x":216.2,"y":1.583,"t":"0"},{"x":245.4,"y":2.047,"t":".15"},{"x":203.1,"y":0.17,"t":"0"},{"x":156.2,"y":0.171,"t":".15"},{"x":245.4,"y":0.162,"t":"-.10"}
]
},
"spacing": 58,
"bounds": "flush",
"hconcat": [
{
"width": 346, "height": 355,
"title": {"text": "(a) ocean heat content anomaly", "anchor": "middle", "frame": "group", "dx": -18, "offset": 14},
"layer": [
{"data": {"name": "la"}, "transform": [{"filter": "datum.v < 0"}], "mark": {"type": "line", "color": "black", "strokeWidth": 0.9, "strokeDash": [3, 2], "interpolate": "catmull-rom"},
 "encoding": {"x": {"field": "x", "type": "quantitative", "scale": {"domain": [130, 290], "nice": false, "zero": false}, "axis": {"orient": "bottom", "values": [130,150,170,190,210,230,250,270,290], "format": "d", "tickSize": 6, "offset": -3, "labelFontSize": 11, "labelPadding": 7, "title": "LONGITUDE", "titleFontSize": 11, "titlePadding": 10}},
  "y": {"field": "y", "type": "quantitative", "scale": {"domain": [0, 5], "nice": false, "zero": false}, "axis": {"orient": "left", "values": [0,1,2,3,4,5], "format": "d", "tickSize": 21, "labelFontSize": 11, "labelPadding": 5, "title": "MONTH", "titleFontSize": 9.5, "titlePadding": 24}},
  "detail": {"field": "c", "type": "nominal"}, "order": {"value": null}}},
{"data": {"name": "la"}, "transform": [{"filter": "datum.v > 0"}], "mark": {"type": "line", "color": "black", "strokeWidth": 1, "interpolate": "catmull-rom"},
 "encoding": {"x": {"field": "x", "type": "quantitative", "scale": {"domain": [130, 290], "nice": false, "zero": false}, "axis": {"orient": "bottom", "values": [135,140,145,155,160,165,175,180,185,195,200,205,215,220,225,235,240,245,255,260,265,275,280,285], "tickSize": 3, "offset": -1.5, "labels": false, "title": null}},
  "y": {"field": "y", "type": "quantitative", "scale": {"domain": [0, 5], "nice": false, "zero": false}, "axis": {"orient": "left", "values": [0.1667,0.3333,0.5,0.6667,0.8333,1.1667,1.3333,1.5,1.6667,1.8333,2.1667,2.3333,2.5,2.6667,2.8333,3.1667,3.3333,3.5,3.6667,3.8333,4.1667,4.3333,4.5,4.6667,4.8333], "tickSize": 14, "offset": -7, "labelFontSize": 8, "labelPadding": 11, "labelExpr": "round((datum.value - floor(datum.value)) * 12) + 1", "title": null}},
  "detail": {"field": "c", "type": "nominal"}, "order": {"value": null}}},
{"data": {"name": "la"}, "transform": [{"filter": "datum.v == 0"}], "mark": {"type": "line", "color": "black", "strokeWidth": 2, "interpolate": "catmull-rom"},
 "encoding": {"x": {"field": "x", "type": "quantitative", "scale": {"domain": [130, 290], "nice": false, "zero": false}, "axis": {"orient": "top", "values": [130,150,170,190,210,230,250,270,290], "tickSize": 3, "offset": -3, "labels": false, "title": null}},
  "y": {"field": "y", "type": "quantitative", "scale": {"domain": [0, 5], "nice": false, "zero": false}, "axis": {"orient": "left", "values": [0.0833,0.25,0.4167,0.5833,0.75,0.9167,1.0833,1.25,1.4167,1.5833,1.75,1.9167,2.0833,2.25,2.4167,2.5833,2.75,2.9167,3.0833,3.25,3.4167,3.5833,3.75,3.9167,4.0833,4.25,4.4167,4.5833,4.75,4.9167], "tickSize": 8, "offset": -4, "labels": false, "title": null}},
  "detail": {"field": "c", "type": "nominal"}, "order": {"value": null}}},
{"data": {"name": "ta"}, "mark": {"type": "text", "fontSize": 9, "color": "white", "stroke": "white", "strokeWidth": 4},
 "encoding": {"x": {"field": "x", "type": "quantitative", "scale": {"domain": [130, 290], "nice": false, "zero": false}, "axis": null},
  "y": {"field": "y", "type": "quantitative", "scale": {"domain": [0, 5], "nice": false, "zero": false}, "axis": {"orient": "right", "values": [0,1,2,3,4,5], "tickSize": 20, "labels": false, "title": null}},
  "text": {"field": "t"}}},
{"data": {"name": "ta"}, "mark": {"type": "text", "fontSize": 9, "color": "black"},
 "encoding": {"x": {"field": "x", "type": "quantitative", "scale": {"domain": [130, 290], "nice": false, "zero": false}, "axis": null},
  "y": {"field": "y", "type": "quantitative", "scale": {"domain": [0, 5], "nice": false, "zero": false}, "axis": {"orient": "right", "values": [0,0.0833,0.1667,0.25,0.3333,0.4167,0.5,0.5833,0.6667,0.75,0.8333,0.9167,1,1.0833,1.1667,1.25,1.3333,1.4167,1.5,1.5833,1.6667,1.75,1.8333,1.9167,2,2.0833,2.1667,2.25,2.3333,2.4167,2.5,2.5833,2.6667,2.75,2.8333,2.9167,3,3.0833,3.1667,3.25,3.3333,3.4167,3.5,3.5833,3.6667,3.75,3.8333,3.9167,4,4.0833,4.1667,4.25,4.3333,4.4167,4.5,4.5833,4.6667,4.75,4.8333,4.9167,5], "tickSize": 7, "offset": -3.5, "labels": false, "title": null}},
  "text": {"field": "t"}}}
],
"resolve": {"axis": {"x": "independent", "y": "independent"}}
},
{
"width": 346, "height": 355,
"title": {"text": "(b) zonal-mean component", "anchor": "middle", "frame": "group", "dx": -29, "offset": 14},
"layer": [
{"data": {"name": "lb"}, "transform": [{"filter": "datum.v < 0"}], "mark": {"type": "line", "color": "black", "strokeWidth": 0.9, "strokeDash": [3, 2]},
 "encoding": {"x": {"field": "x", "type": "quantitative", "scale": {"domain": [130, 290], "nice": false, "zero": false}, "axis": {"orient": "bottom", "values": [130,150,170,190,210,230,250,270,290], "format": "d", "tickSize": 6, "offset": -3, "labelFontSize": 11, "labelPadding": 7, "title": "LONGITUDE", "titleFontSize": 11, "titlePadding": 10}},
  "y": {"field": "y", "type": "quantitative", "scale": {"domain": [0, 5], "nice": false, "zero": false}, "axis": {"orient": "left", "values": [0,1,2,3,4,5], "format": "d", "tickSize": 21, "labelFontSize": 11, "labelPadding": 5, "title": null}},
  "detail": {"field": "c", "type": "nominal"}, "order": {"value": null}}},
{"data": {"name": "lb"}, "transform": [{"filter": "datum.v > 0"}], "mark": {"type": "line", "color": "black", "strokeWidth": 1},
 "encoding": {"x": {"field": "x", "type": "quantitative", "scale": {"domain": [130, 290], "nice": false, "zero": false}, "axis": {"orient": "bottom", "values": [135,140,145,155,160,165,175,180,185,195,200,205,215,220,225,235,240,245,255,260,265,275,280,285], "tickSize": 3, "offset": -1.5, "labels": false, "title": null}},
  "y": {"field": "y", "type": "quantitative", "scale": {"domain": [0, 5], "nice": false, "zero": false}, "axis": {"orient": "left", "values": [0.1667,0.3333,0.5,0.6667,0.8333,1.1667,1.3333,1.5,1.6667,1.8333,2.1667,2.3333,2.5,2.6667,2.8333,3.1667,3.3333,3.5,3.6667,3.8333,4.1667,4.3333,4.5,4.6667,4.8333], "tickSize": 14, "offset": -7, "labelFontSize": 8, "labelPadding": 11, "labelExpr": "round((datum.value - floor(datum.value)) * 12) + 1", "title": null}},
  "detail": {"field": "c", "type": "nominal"}, "order": {"value": null}}},
{"data": {"name": "lb"}, "transform": [{"filter": "datum.v == 0"}], "mark": {"type": "line", "color": "black", "strokeWidth": 2},
 "encoding": {"x": {"field": "x", "type": "quantitative", "scale": {"domain": [130, 290], "nice": false, "zero": false}, "axis": {"orient": "top", "values": [130,150,170,190,210,230,250,270,290], "tickSize": 3, "offset": -3, "labels": false, "title": null}},
  "y": {"field": "y", "type": "quantitative", "scale": {"domain": [0, 5], "nice": false, "zero": false}, "axis": {"orient": "left", "values": [0.0833,0.25,0.4167,0.5833,0.75,0.9167,1.0833,1.25,1.4167,1.5833,1.75,1.9167,2.0833,2.25,2.4167,2.5833,2.75,2.9167,3.0833,3.25,3.4167,3.5833,3.75,3.9167,4.0833,4.25,4.4167,4.5833,4.75,4.9167], "tickSize": 8, "offset": -4, "labels": false, "title": null}},
  "detail": {"field": "c", "type": "nominal"}, "order": {"value": null}}},
{"data": {"name": "tb"}, "mark": {"type": "text", "fontSize": 9, "color": "white", "stroke": "white", "strokeWidth": 4},
 "encoding": {"x": {"field": "x", "type": "quantitative", "scale": {"domain": [130, 290], "nice": false, "zero": false}, "axis": null},
  "y": {"field": "y", "type": "quantitative", "scale": {"domain": [0, 5], "nice": false, "zero": false}, "axis": {"orient": "right", "values": [0,1,2,3,4,5], "tickSize": 20, "labels": false, "title": null}},
  "text": {"field": "t"}}},
{"data": {"name": "tb"}, "mark": {"type": "text", "fontSize": 9, "color": "black"},
 "encoding": {"x": {"field": "x", "type": "quantitative", "scale": {"domain": [130, 290], "nice": false, "zero": false}, "axis": null},
  "y": {"field": "y", "type": "quantitative", "scale": {"domain": [0, 5], "nice": false, "zero": false}, "axis": {"orient": "right", "values": [0,0.0833,0.1667,0.25,0.3333,0.4167,0.5,0.5833,0.6667,0.75,0.8333,0.9167,1,1.0833,1.1667,1.25,1.3333,1.4167,1.5,1.5833,1.6667,1.75,1.8333,1.9167,2,2.0833,2.1667,2.25,2.3333,2.4167,2.5,2.5833,2.6667,2.75,2.8333,2.9167,3,3.0833,3.1667,3.25,3.3333,3.4167,3.5,3.5833,3.6667,3.75,3.8333,3.9167,4,4.0833,4.1667,4.25,4.3333,4.4167,4.5,4.5833,4.6667,4.75,4.8333,4.9167,5], "tickSize": 7, "offset": -3.5, "labels": false, "title": null}},
  "text": {"field": "t"}}}
],
"resolve": {"axis": {"x": "independent", "y": "independent"}}
},
{
"width": 346, "height": 355,
"title": {"text": "(c) zonally asymmetric component", "anchor": "middle", "frame": "group", "dx": -4, "offset": 14},
"layer": [
{"data": {"name": "lc"}, "transform": [{"filter": "datum.v < 0"}], "mark": {"type": "line", "color": "black", "strokeWidth": 0.9, "strokeDash": [3, 2], "interpolate": "catmull-rom"},
 "encoding": {"x": {"field": "x", "type": "quantitative", "scale": {"domain": [130, 290], "nice": false, "zero": false}, "axis": {"orient": "bottom", "values": [130,150,170,190,210,230,250,270,290], "format": "d", "tickSize": 6, "offset": -3, "labelFontSize": 11, "labelPadding": 7, "title": "LONGITUDE", "titleFontSize": 11, "titlePadding": 10}},
  "y": {"field": "y", "type": "quantitative", "scale": {"domain": [0, 5], "nice": false, "zero": false}, "axis": {"orient": "left", "values": [0,1,2,3,4,5], "format": "d", "tickSize": 21, "labelFontSize": 11, "labelPadding": 5, "title": null}},
  "detail": {"field": "c", "type": "nominal"}, "order": {"value": null}}},
{"data": {"name": "lc"}, "transform": [{"filter": "datum.v > 0"}], "mark": {"type": "line", "color": "black", "strokeWidth": 1, "interpolate": "catmull-rom"},
 "encoding": {"x": {"field": "x", "type": "quantitative", "scale": {"domain": [130, 290], "nice": false, "zero": false}, "axis": {"orient": "bottom", "values": [135,140,145,155,160,165,175,180,185,195,200,205,215,220,225,235,240,245,255,260,265,275,280,285], "tickSize": 3, "offset": -1.5, "labels": false, "title": null}},
  "y": {"field": "y", "type": "quantitative", "scale": {"domain": [0, 5], "nice": false, "zero": false}, "axis": {"orient": "left", "values": [0.1667,0.3333,0.5,0.6667,0.8333,1.1667,1.3333,1.5,1.6667,1.8333,2.1667,2.3333,2.5,2.6667,2.8333,3.1667,3.3333,3.5,3.6667,3.8333,4.1667,4.3333,4.5,4.6667,4.8333], "tickSize": 14, "offset": -7, "labelFontSize": 8, "labelPadding": 11, "labelExpr": "round((datum.value - floor(datum.value)) * 12) + 1", "title": null}},
  "detail": {"field": "c", "type": "nominal"}, "order": {"value": null}}},
{"data": {"name": "lc"}, "transform": [{"filter": "datum.v == 0"}], "mark": {"type": "line", "color": "black", "strokeWidth": 2, "interpolate": "catmull-rom"},
 "encoding": {"x": {"field": "x", "type": "quantitative", "scale": {"domain": [130, 290], "nice": false, "zero": false}, "axis": {"orient": "top", "values": [130,150,170,190,210,230,250,270,290], "tickSize": 3, "offset": -3, "labels": false, "title": null}},
  "y": {"field": "y", "type": "quantitative", "scale": {"domain": [0, 5], "nice": false, "zero": false}, "axis": {"orient": "left", "values": [0.0833,0.25,0.4167,0.5833,0.75,0.9167,1.0833,1.25,1.4167,1.5833,1.75,1.9167,2.0833,2.25,2.4167,2.5833,2.75,2.9167,3.0833,3.25,3.4167,3.5833,3.75,3.9167,4.0833,4.25,4.4167,4.5833,4.75,4.9167], "tickSize": 8, "offset": -4, "labels": false, "title": null}},
  "detail": {"field": "c", "type": "nominal"}, "order": {"value": null}}},
{"data": {"name": "tc"}, "mark": {"type": "text", "fontSize": 9, "color": "white", "stroke": "white", "strokeWidth": 4},
 "encoding": {"x": {"field": "x", "type": "quantitative", "scale": {"domain": [130, 290], "nice": false, "zero": false}, "axis": null},
  "y": {"field": "y", "type": "quantitative", "scale": {"domain": [0, 5], "nice": false, "zero": false}, "axis": {"orient": "right", "values": [0,1,2,3,4,5], "tickSize": 20, "labels": false, "title": null}},
  "text": {"field": "t"}}},
{"data": {"name": "tc"}, "mark": {"type": "text", "fontSize": 9, "color": "black"},
 "encoding": {"x": {"field": "x", "type": "quantitative", "scale": {"domain": [130, 290], "nice": false, "zero": false}, "axis": null},
  "y": {"field": "y", "type": "quantitative", "scale": {"domain": [0, 5], "nice": false, "zero": false}, "axis": {"orient": "right", "values": [0,0.0833,0.1667,0.25,0.3333,0.4167,0.5,0.5833,0.6667,0.75,0.8333,0.9167,1,1.0833,1.1667,1.25,1.3333,1.4167,1.5,1.5833,1.6667,1.75,1.8333,1.9167,2,2.0833,2.1667,2.25,2.3333,2.4167,2.5,2.5833,2.6667,2.75,2.8333,2.9167,3,3.0833,3.1667,3.25,3.3333,3.4167,3.5,3.5833,3.6667,3.75,3.8333,3.9167,4,4.0833,4.1667,4.25,4.3333,4.4167,4.5,4.5833,4.6667,4.75,4.8333,4.9167,5], "tickSize": 7, "offset": -3.5, "labels": false, "title": null}},
  "text": {"field": "t"}}}
],
"resolve": {"axis": {"x": "independent", "y": "independent"}}
}
],
"config": {
 "view": {"stroke": "black", "strokeWidth": 1},
 "axis": {"grid": false, "domain": false, "tickColor": "black", "tickWidth": 1, "labelColor": "black", "titleColor": "black", "labelFont": "DejaVu Serif", "titleFont": "DejaVu Serif", "titleFontWeight": "normal", "labelOverlap": false, "labelFlush": false},
 "title": {"font": "DejaVu Serif", "fontSize": 20, "fontWeight": "normal", "color": "black"},
 "text": {"font": "DejaVu Serif"}
}
}
